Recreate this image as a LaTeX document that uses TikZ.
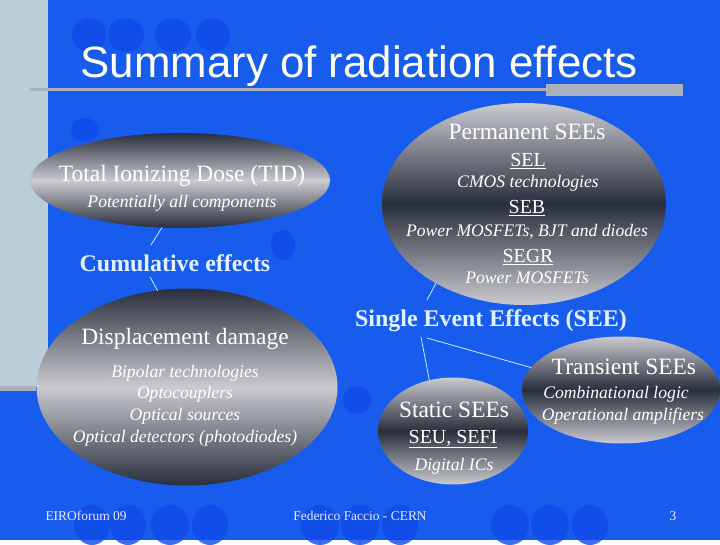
\documentclass[tikz,border=0pt]{standalone}
\usepackage{fontspec}
\setmainfont{Liberation Serif}
\setsansfont{Liberation Sans}
\usetikzlibrary{shapes.geometric}
\definecolor{bgblue}{RGB}{24,92,238}
\definecolor{blob}{RGB}{14,74,232}
\definecolor{strip}{RGB}{186,206,216}
\definecolor{rulegray}{RGB}{170,176,188}
\definecolor{ellight}{RGB}{202,202,208}
\definecolor{eldark}{RGB}{40,46,60}
\definecolor{linkcol}{RGB}{200,236,255}
\definecolor{grouptext}{RGB}{228,242,255}
\definecolor{titletext}{RGB}{255,255,238}
\definecolor{foottext}{RGB}{232,236,246}
\begin{document}
\begin{tikzpicture}[x=1bp,y=-1bp,line join=round,line cap=round,
	oval/.style={ellipse,inner sep=0pt,outer sep=0pt},
	darkrim/.style={oval,top color=eldark,bottom color=eldark,middle color=ellight},
	lightrim/.style={oval,top color=ellight,bottom color=ellight,middle color=eldark},
	head/.style={anchor=base,text=white,font=\fontsize{23.5}{26}\selectfont},
	sub/.style={anchor=base,text=white,font=\fontsize{17.7}{20}\selectfont\itshape},
	tag/.style={anchor=base,text=white,font=\fontsize{20}{22}\selectfont},
	group/.style={anchor=base,text=grouptext,font=\fontsize{24}{26}\selectfont\bfseries},
	foot/.style={anchor=base,text=foottext,font=\fontsize{13.5}{15}\selectfont},
	link/.style={draw=linkcol,line width=0.8bp}]
	\fill [bgblue] (0,0) rectangle (720,540);
	\fill [blob, opacity=0.8] (89,35) ellipse (17bp and 17bp) (126,35) ellipse (18bp and 17bp)
	(173,35) ellipse (18bp and 17bp) (213,35) ellipse (17bp and 17bp)
	(85,130) ellipse (14bp and 12bp) (283,245) ellipse (12bp and 15bp) (357,400) ellipse (14bp and 14bp)
	(92,525) ellipse (18bp and 20bp) (128,525) ellipse (18bp and 20bp) (170,525) ellipse (19bp and 20bp) (210,525) ellipse (18bp and 20bp)
	(320,525) ellipse (19bp and 20bp) (360,525) ellipse (19bp and 20bp) (400,525) ellipse (18bp and 20bp)
	(510,525) ellipse (19bp and 20bp) (550,525) ellipse (19bp and 20bp) (590,525) ellipse (18bp and 20bp);
	\fill [strip] (0,0) rectangle (48,387);
	\fill [rulegray] (0,386) rectangle (36,391);
	\draw [rulegray, line width=3bp, line cap=butt] (30,90) -- (546,90);
	\fill [rulegray] (546,84) rectangle (683,96);
	\node [anchor=base, text=titletext, font=\sffamily\fontsize{44}{48}\selectfont] (title) at (359,78) {Summary of radiation effects};

	\node [darkrim, minimum width=300bp, minimum height=95bp] (tid) at (180,180.5) {};
	\node [lightrim, minimum width=284bp, minimum height=202bp] (perm) at (524,204) {};
	\node [darkrim, minimum width=301bp, minimum height=197bp] (dd) at (187,387) {};
	\node [lightrim, minimum width=150bp, minimum height=107bp] (static) at (453,431) {};
	\node [lightrim, minimum width=198bp, minimum height=107bp] (trans) at (621,390) {};

	\node [head] (permtitle) at (527,140) {Permanent SEEs};
	\node [tag] (sel) at (528,167) {\underline{SEL}};
	\node [sub] (selnote) at (528,188) {CMOS technologies};
	\node [tag] (seb) at (527,214) {\underline{SEB}};
	\node [sub] (sebnote) at (527,237) {Power MOSFETs, BJT and diodes};
	\node [tag] (segr) at (528,263) {\underline{SEGR}};
	\node [sub] (segrnote) at (527,284) {Power MOSFETs};

	\node [head] (tidtitle) at (182,182) {Total Ionizing Dose (TID)};
	\node [sub] (tidnote) at (182,208) {Potentially all components};
	\node [group] (cum) at (175,272) {Cumulative effects};

	\node [head] (ddtitle) at (185,344) {Displacement damage};
	\node [sub] (ddnotea) at (185,377) {Bipolar technologies};
	\node [sub] (ddnoteb) at (185,398) {Optocouplers};
	\node [sub] (ddnotec) at (185,420) {Optical sources};
	\node [sub] (ddnoted) at (185,442) {Optical detectors (photodiodes)};

	\node [group] (see) at (491,326) {Single Event Effects (SEE)};
	\node [head] (stattitle) at (454,417) {Static SEEs};
	\node [tag] (seu) at (453,443) {\underline{SEU, SEFI}};
	\node [sub] (statnote) at (454,470) {Digital ICs};
	\node [head] (transtitle) at (624,374) {Transient SEEs};
	\node [sub] (transnotea) at (616,398) {Combinational logic};
	\node [sub] (transnoteb) at (623,420) {Operational amplifiers};

	\draw [link] (tid.249) -- ([shift={(-24,-27)}]cum.base);
	\draw [link] ([shift={(-25,5)}]cum.base) -- (dd.107);
	\draw [link] (perm.222) -- ([shift={(-64,-26)}]see.base);
	\draw [link] ([shift={(-70,11)}]see.base) -- (static.115);
	\draw [link] ([shift={(-64,12)}]see.base) -- (trans.166);

	\node [foot, anchor=base west] (event) at (42,520) {EIROforum 09};
	\node [foot] (speaker) at (360,520) {Federico Faccio - CERN};
	\node [foot] (page) at (673,520) {3};
\end{tikzpicture}
\end{document}
